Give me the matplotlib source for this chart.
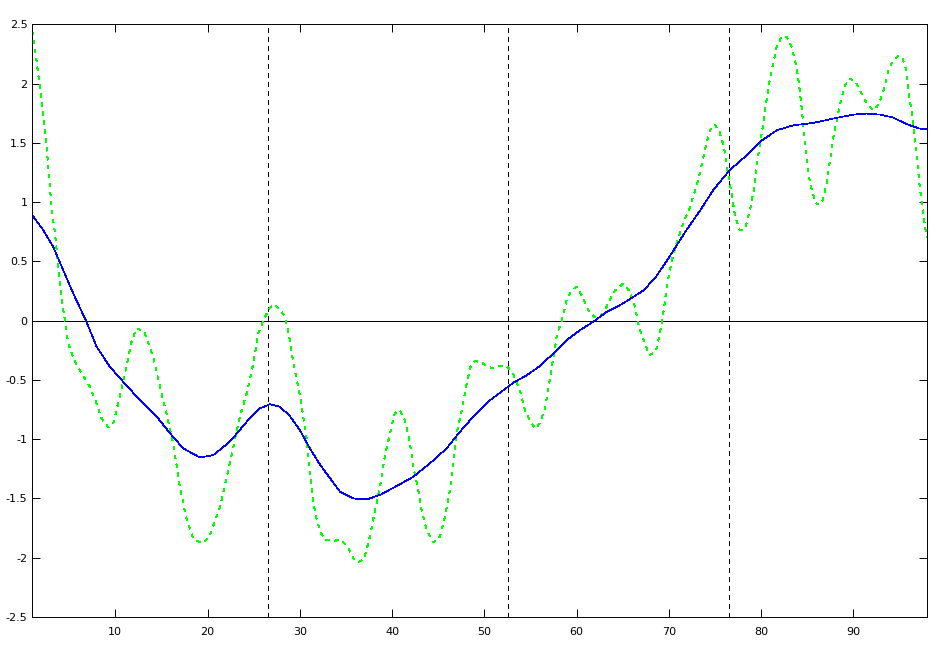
import matplotlib
matplotlib.use("Agg")
import matplotlib.pyplot as plt

# smooth (blue) series
trend_x = [1.0, 2.2, 3.28, 4.36, 5.44, 6.82, 7.98, 9.42, 10.86, 12.67, 14.49, 15.93,
           17.37, 19.18, 20.62, 22.43, 24.24, 25.68, 26.77, 27.85, 28.93, 30.0, 31.1,
           32.1, 32.9, 34.36, 35.8, 37.25, 38.7, 40.5, 42.3, 44.1, 45.9, 47.36, 48.8,
           50.26, 51.7, 53.14, 54.6, 56.0, 57.48, 58.93, 60.37, 61.8, 63.27, 64.7,
           66.15, 67.3, 68.7, 69.94, 71.9, 73.4, 74.8, 76.6, 78.44, 79.9, 81.7, 83.5,
           85.66, 87.83, 90.0, 91.45, 92.9, 94.33, 95.8, 97.2, 98.0]
trend_y = [0.89, 0.763, 0.622, 0.426, 0.23, 0.0, -0.22, -0.39, -0.516, -0.67, -0.81, -0.95,
           -1.078, -1.154, -1.134, -1.02, -0.853, -0.74, -0.704, -0.727, -0.805, -0.923, -1.078,
           -1.204, -1.29, -1.443, -1.50, -1.508, -1.47, -1.395, -1.317, -1.204, -1.078, -0.937, -0.81,
           -0.693, -0.608, -0.524, -0.46, -0.384, -0.277, -0.164, -0.08, -0.01, 0.074, 0.13,
           0.20, 0.257, 0.38, 0.524, 0.763, 0.93, 1.10, 1.27, 1.395, 1.51, 1.606, 1.648,
           1.668, 1.705, 1.738, 1.747, 1.738, 1.713, 1.657, 1.62, 1.614]

# wiggly (green) series
raw_x = [1.0, 1.37, 1.76, 2.19, 2.56, 2.84, 3.1, 3.46, 3.82, 4.1, 4.54, 4.9, 5.46, 6.35,
         7.25, 7.98, 8.52, 9.24, 9.78, 10.3, 11.05, 11.8, 12.3, 13.1, 14.1, 14.84, 15.56,
         16.28, 17.0, 17.74, 18.45, 19.43, 20.2, 21.35, 22.07, 22.8, 23.5, 24.24, 24.96,
         25.5, 26.04, 26.6, 27.12, 27.8, 28.4, 28.93, 29.3, 29.83, 30.2, 30.75, 31.1,
         31.65, 32.2, 32.73, 33.6, 34.5, 35.26, 35.8, 36.34, 37.0, 37.6, 38.15, 38.7,
         39.2, 39.78, 40.3, 40.86, 41.4, 41.87, 42.3, 42.84, 43.2, 43.75, 44.47, 45.2,
         45.74, 46.28, 46.64, 47.0, 47.55, 48.1, 48.5, 48.99, 49.7, 50.43, 50.97, 51.7,
         52.4, 53.1, 53.87, 54.4, 54.95, 55.5, 56.0, 56.58, 57.1, 57.55, 57.9, 58.4,
         58.93, 59.47, 60.0, 60.67, 61.27, 62.0, 62.9, 63.6, 64.17, 65.06, 65.8, 66.33,
         66.8, 67.3, 67.9, 68.6, 69.3, 69.8, 70.5, 71.4, 72.3, 73.2, 73.9, 74.46, 75.0,
         75.5, 75.98, 76.3, 76.8, 77.2, 77.7, 78.26, 78.8, 79.27, 79.6, 80.07, 80.43,
         80.8, 81.26, 81.7, 82.24, 82.8, 83.3, 83.86, 84.2, 84.5, 84.76, 85.1, 85.6,
         86.03, 86.57, 87.04, 87.47, 87.9, 88.5, 89.0, 89.55, 90.16, 90.7, 91.25, 91.8,
         92.3, 92.86, 93.4, 93.76, 94.3, 94.85, 95.3, 95.68, 95.9, 96.3, 96.65, 96.95,
         97.2, 97.6, 97.9, 98.0]
raw_y = [2.44, 2.25, 2.01, 1.75, 1.465, 1.185, 0.95, 0.737, 0.454, 0.23, 0.0, -0.19, -0.32, -0.445,
         -0.558, -0.70, -0.825, -0.90, -0.867, -0.70, -0.445, -0.164, -0.066, -0.086, -0.305, -0.558, -0.783,
         -1.035, -1.40, -1.68, -1.837, -1.88, -1.82, -1.57, -1.317, -1.064, -0.81, -0.614, -0.36,
         -0.108, 0.0, 0.09, 0.139, 0.10, 0.03, -0.164, -0.36, -0.558, -0.72, -1.0, -1.30,
         -1.62, -1.78, -1.85, -1.857, -1.85, -1.92, -2.005, -2.04, -2.005, -1.82, -1.60, -1.40,
         -1.15, -0.95, -0.78, -0.755, -0.84, -1.0, -1.23, -1.43, -1.60, -1.766, -1.87, -1.82,
         -1.654, -1.43, -1.176, -0.95, -0.755, -0.53, -0.39, -0.34, -0.353, -0.39, -0.40, -0.38,
         -0.38, -0.445, -0.586, -0.755, -0.84, -0.91, -0.867, -0.74, -0.50, -0.277, -0.108, 0.0,
         0.173, 0.257, 0.285, 0.20, 0.089, 0.027, 0.06, 0.173, 0.257, 0.313, 0.243, 0.116,
         -0.066, -0.167, -0.29, -0.26, 0.0, 0.30, 0.567, 0.79, 0.96, 1.185, 1.437, 1.606, 1.654,
         1.59, 1.465, 1.297, 1.072, 0.875, 0.763, 0.777, 0.93, 1.128, 1.353, 1.578, 1.775,
         1.97, 2.154, 2.31, 2.40, 2.393, 2.31, 2.14, 1.94, 1.72, 1.494, 1.24, 1.072,
         0.982, 0.988, 1.128, 1.353, 1.578, 1.80, 1.97, 2.04, 2.028, 1.943, 1.86, 1.80,
         1.775, 1.845, 1.97, 2.10, 2.196, 2.23, 2.225, 2.126, 1.97, 1.775, 1.55, 1.325,
         1.128, 0.90, 0.72, 0.70]

# vertical markers
breaks = [26.5, 52.6, 76.5]

x_ticks = [10, 20, 30, 40, 50, 60, 70, 80, 90]
y_ticks = [-2.5, -2, -1.5, -1, -0.5, 0, 0.5, 1, 1.5, 2, 2.5]
y_labels = ["-2.5", "-2", "-1.5", "-1", "-0.5", "0", "0.5", "1", "1.5", "2", "2.5"]

fig = plt.figure(figsize=(9.38, 6.48), dpi=100)
ax = fig.add_axes([0.0344, 0.0478, 0.954, 0.9147])

ax.axhline(0, color="black", lw=0.7, antialiased=False)
for b in breaks:
    ax.axvline(b, color="black", lw=0.7, dashes=(4.5, 4.5), antialiased=False)

ax.plot(raw_x, raw_y, color="#00ff00", lw=0.5, dashes=(5, 8), antialiased=False)
ax.plot(trend_x, trend_y, color="#0000ff", lw=0.5, antialiased=False)

ax.set_xlim(1, 98)
ax.set_ylim(-2.5, 2.5)
ax.set_xticks(x_ticks)
ax.set_yticks(y_ticks)
ax.set_yticklabels(y_labels)

ax.tick_params(direction="in", length=5.8, width=0.7, top=True, right=True,
               labelsize=8, colors="black")
ax.tick_params(axis="x", pad=7)
ax.tick_params(axis="y", pad=3.5)
for s in ax.spines.values():
    s.set_linewidth(0.7)

fig.savefig("out.png", dpi=100)
